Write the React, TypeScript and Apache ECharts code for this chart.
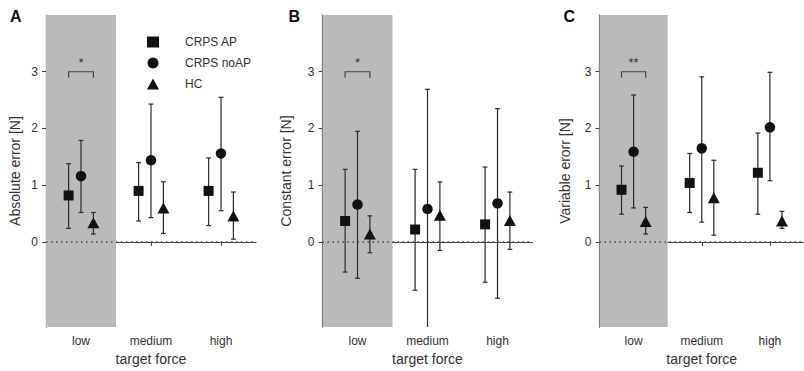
import React, { useEffect, useRef } from "react";
import * as echarts from "echarts";

const categories = ["low", "medium", "high"];
const groupNames = ["CRPS AP", "CRPS noAP", "HC"];
const panelLetters = ["A", "B", "C"];
const yAxisNames = ["Absolute error [N]", "Constant error [N]", "Variable erorr [N]"];
const yTicks = [0, 1, 2, 3];
const sigLabels = ["*", "*", "**"];

// [mean, lower, upper] for low, medium, high
const absAP = [[0.82, 0.24, 1.38], [0.9, 0.37, 1.4], [0.9, 0.29, 1.48]];
const absNoAP = [[1.16, 0.52, 1.79], [1.44, 0.43, 2.43], [1.56, 0.55, 2.55]];
const absHC = [[0.34, 0.14, 0.52], [0.6, 0.15, 1.06], [0.46, 0.05, 0.88]];

const conAP = [[0.37, -0.53, 1.28], [0.22, -0.85, 1.28], [0.31, -0.71, 1.32]];
const conNoAP = [[0.66, -0.64, 1.95], [0.58, -1.8, 2.69], [0.68, -0.99, 2.35]];
const conHC = [[0.14, -0.19, 0.46], [0.47, -0.15, 1.06], [0.38, -0.13, 0.88]];

const varAP = [[0.92, 0.49, 1.34], [1.04, 0.52, 1.56], [1.22, 0.49, 1.92]];
const varNoAP = [[1.59, 0.6, 2.59], [1.65, 0.35, 2.91], [2.02, 1.08, 2.99]];
const varHC = [[0.36, 0.14, 0.61], [0.78, 0.12, 1.44], [0.37, 0.24, 0.54]];

const panelData = [
  [absAP, absNoAP, absHC],
  [conAP, conNoAP, conHC],
  [varAP, varNoAP, varHC],
];

// significance bracket: [group from, group to, y level]
const bracket = [0, 2, 3];

const gridLefts = [46, 322.5, 599.5];
const nameGaps = [24, 30, 28];
const groupOffset = [-0.177, 0, 0.177];
const symbols = ["rect", "circle", "triangle"];
const symbolSizes: any[] = [10, 10.5, [12, 11]];
const FONT = "'Liberation Sans', Arial, sans-serif";
const TEXT = "#333";
const AXIS = "#444";

export default function App() {
  const ref = useRef<HTMLDivElement>(null);
  useEffect(() => {
    if (!ref.current) return;
    const chart = echarts.init(ref.current, undefined, { renderer: "svg" });
    const grids: any[] = [];
    const xAxes: any[] = [];
    const yAxes: any[] = [];
    const series: any[] = [];
    const graphics: any[] = [];

    panelData.forEach((groups, p) => {
      grids.push({ left: gridLefts[p], top: 15, width: 210, height: 315 });
      xAxes.push({
        gridIndex: p,
        type: "value",
        min: 0,
        max: 3,
        name: "target force",
        nameLocation: "middle",
        nameGap: 22,
        nameTextStyle: { fontSize: 14, color: TEXT, fontFamily: FONT },
        axisLine: { show: true, lineStyle: { color: AXIS, width: 1.2 } },
        axisTick: { show: true, length: 4, customValues: [0.5, 1.5, 2.5], lineStyle: { color: AXIS } },
        axisLabel: {
          customValues: [0.5, 1.5, 2.5],
          formatter: (v: number) => categories[Math.floor(v)],
          fontSize: 12,
          color: TEXT,
          fontFamily: FONT,
          margin: 8,
        },
        splitLine: { show: false },
      });
      yAxes.push({
        gridIndex: p,
        type: "value",
        min: -1.5,
        max: 4,
        name: yAxisNames[p],
        nameLocation: "middle",
        nameGap: nameGaps[p],
        nameTextStyle: { fontSize: 14, color: TEXT, fontFamily: FONT },
        axisLine: { show: true, lineStyle: { color: AXIS, width: 1.2 } },
        axisTick: { show: true, length: 4, customValues: yTicks, lineStyle: { color: AXIS } },
        axisLabel: { customValues: yTicks, fontSize: 12, color: TEXT, fontFamily: FONT, margin: 8 },
        splitLine: { show: false },
      });

      // grey band for "low"
      series.push({
        type: "scatter",
        xAxisIndex: p,
        yAxisIndex: p,
        data: [],
        silent: true,
        z: 1,
        markArea: {
          silent: true,
          itemStyle: { color: "#b9babc" },
          data: [[{ xAxis: 0 }, { xAxis: 1 }]],
        },
      });

      groups.forEach((g, gi) => {
        const errData = g.map((d, ci) => [ci + 0.5 + groupOffset[gi], d[1], d[2]]);
        series.push({
          type: "custom",
          xAxisIndex: p,
          yAxisIndex: p,
          z: 2,
          clip: true,
          silent: true,
          data: errData,
          encode: { x: 0, y: [1, 2] },
          renderItem: (params: any, api: any) => {
            const x = api.value(0);
            const top = api.coord([x, api.value(2)]);
            const bot = api.coord([x, api.value(1)]);
            const style = { stroke: "#2b2b2b", lineWidth: 1.2 };
            const cw = 2.4;
            return {
              type: "group",
              children: [
                { type: "line", shape: { x1: top[0], y1: top[1], x2: bot[0], y2: bot[1] }, style },
                { type: "line", shape: { x1: top[0] - cw, y1: top[1], x2: top[0] + cw, y2: top[1] }, style },
                { type: "line", shape: { x1: bot[0] - cw, y1: bot[1], x2: bot[0] + cw, y2: bot[1] }, style },
              ],
            };
          },
          markLine:
            gi === 0
              ? {
                  silent: true,
                  symbol: ["none", "none"],
                  label: { show: false },
                  lineStyle: { type: [1.5, 3.5], color: "#444", width: 1.5 },
                  data: [{ yAxis: 0 }],
                }
              : undefined,
        });
        series.push({
          type: "scatter",
          name: groupNames[gi],
          xAxisIndex: p,
          yAxisIndex: p,
          z: 3,
          silent: true,
          symbol: symbols[gi],
          symbolSize: symbolSizes[gi],
          itemStyle: { color: "#111", opacity: 1 },
          data: g.map((d, ci) => [ci + 0.5 + groupOffset[gi], d[0]]),
        });
      });

      // significance bracket
      series.push({
        type: "custom",
        xAxisIndex: p,
        yAxisIndex: p,
        z: 3,
        silent: true,
        data: [[0.5 + groupOffset[bracket[0]], 0.5 + groupOffset[bracket[1]], bracket[2]]],
        renderItem: (params: any, api: any) => {
          const a = api.coord([api.value(0), api.value(2)]);
          const b = api.coord([api.value(1), api.value(2)]);
          const leg = 6;
          return {
            type: "group",
            children: [
              {
                type: "polyline",
                shape: { points: [[a[0], a[1] + leg], a, b, [b[0], b[1] + leg]] },
                style: { stroke: "#444", lineWidth: 1.2, fill: "none" },
              },
              {
                type: "text",
                x: (a[0] + b[0]) / 2,
                y: a[1] - 3,
                style: {
                  text: sigLabels[p],
                  fill: "#333",
                  font: `13px ${FONT}`,
                  textAlign: "center",
                  textVerticalAlign: "bottom",
                },
              },
            ],
          };
        },
      });

      graphics.push({
        type: "text",
        left: gridLefts[p] - [36, 34, 36][p],
        top: 8,
        style: { text: panelLetters[p], font: `bold 16px ${FONT}`, fill: "#111" },
      });
    });

    chart.setOption({
      animation: false,
      backgroundColor: "#fff",
      textStyle: { fontFamily: FONT },
      grid: grids,
      xAxis: xAxes,
      yAxis: yAxes,
      legend: {
        data: groupNames,
        orient: "vertical",
        left: 142,
        top: 31,
        itemWidth: 12,
        itemHeight: 11,
        itemGap: 9,
        selectedMode: false,
        textStyle: { fontSize: 12, color: TEXT, fontFamily: FONT, padding: [0, 0, 0, 21] },
      },
      graphic: graphics,
      series,
    });
    return () => chart.dispose();
  }, []);
  return (
    <div
      ref={ref}
      style={{ position: "fixed", left: 0, top: 0, width: 804, height: 371, overflow: "hidden" }}
    />
  );
}
